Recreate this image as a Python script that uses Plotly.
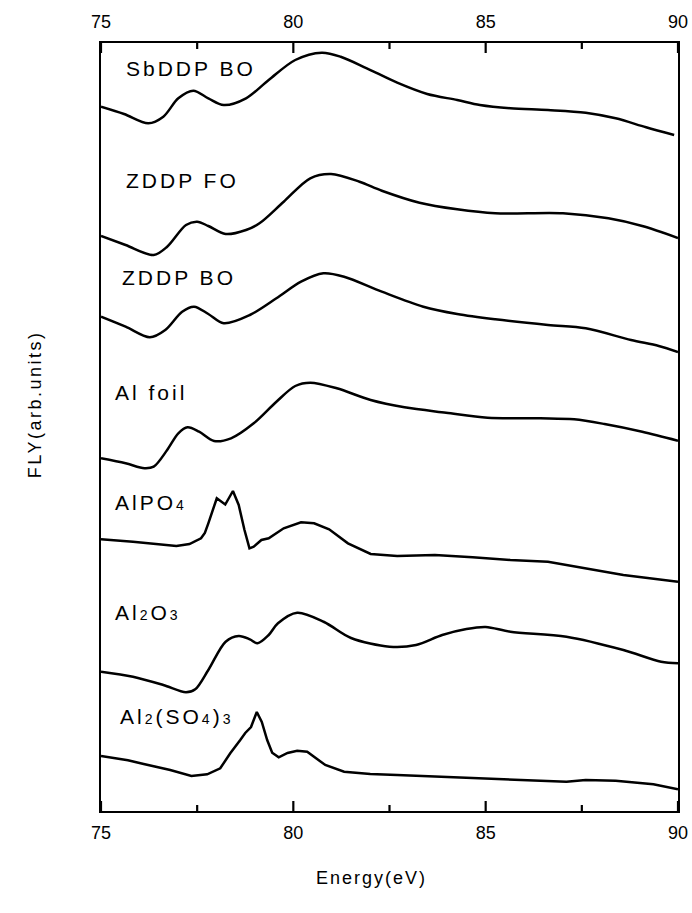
import plotly.graph_objects as go

# Energy (eV) and FLY intensities (arb. units, stacked with offsets)
sbddp_bo_x = [75.0, 75.6, 76.23, 76.62, 77.01, 77.40, 77.79, 78.19, 78.77, 79.36, 80.05, 80.74, 81.23, 81.91,
              82.70, 83.48, 84.26, 84.85, 85.64, 86.62, 87.60, 88.38, 89.17, 89.9]
sbddp_bo_y = [704.3, 697, 687.7, 694.3, 712.7, 720.3, 712.7, 706, 712.7, 731, 751, 758.3, 754.3, 742.7,
              728.3, 717, 711, 706, 702.7, 701, 698.3, 692.7, 683.7, 676]

zddp_fo_x = [75.0, 75.64, 76.37, 76.72, 77.21, 77.5, 77.79, 78.24, 78.77, 79.12, 79.75, 80.44, 80.98, 81.72,
             82.30, 83.28, 84.26, 85.25, 87.01, 88.19, 89.07, 90.0]
zddp_fo_y = [575, 566, 556, 564.3, 586, 589.3, 585, 577, 581, 587.7, 609.3, 632.7, 637, 629.3,
             620.3, 608.3, 601.7, 597.7, 597.7, 592.7, 585, 573]

zddp_bo_x = [75.0, 75.64, 76.27, 76.67, 77.11, 77.42, 77.79, 78.19, 78.87, 79.56, 80.2, 80.78, 81.32, 82.30,
             83.38, 84.26, 85.25, 86.62, 87.6, 88.78, 89.5, 90.0]
zddp_bo_y = [494.3, 484.3, 473.7, 481, 499.3, 504.3, 497, 487.7, 496, 512.7, 529.3, 537.7, 534.3, 519.3,
             504.3, 497, 491.7, 486, 482.7, 471, 465, 459]

al_foil_x = [75.0, 75.64, 76.13, 76.37, 76.72, 77.01, 77.25, 77.55, 77.94, 78.38, 78.97, 79.56, 80.05, 80.44,
             81.13, 82.01, 82.89, 83.97, 85.05, 86.42, 87.30, 88.09, 89.07, 90.0]
al_foil_y = [352.7, 347.7, 342.7, 344.3, 361, 377.7, 383.7, 379.3, 370, 372.7, 387.7, 409.3, 425, 428.3,
             422.7, 411, 403.7, 398.3, 393.3, 392.7, 391.7, 387, 379.3, 370.3]

alpo4_x = [75.0, 75.83, 76.96, 77.30, 77.6, 77.7, 77.79, 77.9, 78.01, 78.23, 78.43, 78.58, 78.73, 78.86, 78.97,
           79.17, 79.36, 79.75, 80.2, 80.54, 80.93, 81.42, 82.01, 82.70, 83.68, 84.66, 85.64, 86.62, 87.6,
           88.58, 90.0]
alpo4_y = [271.7, 269.3, 265, 267, 272.7, 278, 287.7, 301, 312.7, 306.5, 320, 306, 281, 262.7, 264.3,
           271, 272.7, 282.7, 288.7, 287.7, 281.7, 267.7, 257, 255, 256, 253.7, 251, 249.3, 242.7,
           236, 229.3]

al2o3_x = [75.0, 75.83, 76.62, 77.21, 77.45, 77.79, 78.24, 78.58, 78.87, 79.07, 79.36, 79.6, 80.1, 80.8,
           81.5, 82.5, 83.19, 83.87, 84.5, 85.0, 85.64, 87.1, 88.58, 89.56, 90.0]
al2o3_y = [139.3, 134.3, 126, 118.7, 121.7, 141, 169.3, 175, 171.7, 167.7, 176, 187.7, 198.3, 189,
           173, 164.3, 166, 176, 182, 184, 179.3, 174.3, 161, 149.3, 147.7]

al2so43_x = [75.0, 75.7, 76.11, 76.8, 77.35, 77.76, 78.1, 78.36, 78.62, 78.75, 78.9, 79.05, 79.18, 79.32,
             79.45, 79.62, 79.85, 80.1, 80.36, 80.83, 81.32, 82.0, 82.70, 83.7, 84.66, 86.03, 87.1, 87.6,
             88.38, 89.36, 90.0]
al2so43_y = [55, 50.7, 47, 41, 35, 36.7, 42.7, 57.7, 71, 78, 84, 99, 89, 71,
             58.3, 53.7, 58, 60.3, 59.3, 46, 39.3, 37, 36, 34.5, 32.7, 30.3, 29.3, 31,
             30.3, 26.7, 21.7]

series = [
    ("SbDDP BO", sbddp_bo_x, sbddp_bo_y, "spline"),
    ("ZDDP FO", zddp_fo_x, zddp_fo_y, "spline"),
    ("ZDDP BO", zddp_bo_x, zddp_bo_y, "spline"),
    ("Al foil", al_foil_x, al_foil_y, "spline"),
    ("AlPO4", alpo4_x, alpo4_y, "linear"),
    ("Al2O3", al2o3_x, al2o3_y, "spline"),
    ("Al2(SO4)3", al2so43_x, al2so43_y, "linear"),
]

# label text and anchor (energy, intensity) for each curve
SUB = "<span style='font-size:14px'>{}</span>"
label_texts = ["SbDDP BO", "ZDDP FO", "ZDDP BO", "Al foil",
               "AlPO" + SUB.format("4"),
               "Al" + SUB.format("2") + "O" + SUB.format("3"),
               "Al" + SUB.format("2") + "(SO" + SUB.format("4") + ")" + SUB.format("3")]
label_x = [75.6, 75.6, 75.49, 75.31, 75.31, 75.31, 75.44]
label_y = [743, 631, 534, 419, 309, 199, 95]

major_ticks = [75, 80, 85, 90]
minor_ticks = [77.5, 82.5, 87.5]
X_RANGE = [75, 90]
Y_RANGE = [0, 768]

FONT = "Liberation Sans, Arial, sans-serif"

fig = go.Figure()
for name, xs, ys, shape in series:
    line = dict(color="black", width=2.5, shape=shape)
    if shape == "spline":
        line["smoothing"] = 0.9
    fig.add_trace(go.Scatter(x=xs, y=ys, mode="lines", name=name, line=line, showlegend=False))

# invisible trace to activate the top label axis
fig.add_trace(go.Scatter(x=X_RANGE, y=[Y_RANGE[0]] * 2, xaxis="x2", mode="lines",
                         line=dict(width=0), opacity=0, showlegend=False, hoverinfo="skip"))

# inward tick marks on the bottom and top frame (pixel-length shapes anchored at the axis limits)
shapes = []
for vals, ln in [(major_ticks, 10), (minor_ticks, 6)]:
    for v in vals:
        shapes.append(dict(type="line", xref="x", yref="y", x0=v, x1=v, ysizemode="pixel",
                           yanchor=Y_RANGE[0], y0=0, y1=ln, line=dict(color="black", width=2.2),
                           layer="above"))
        shapes.append(dict(type="line", xref="x", yref="y", x0=v, x1=v, ysizemode="pixel",
                           yanchor=Y_RANGE[1], y0=0, y1=-ln, line=dict(color="black", width=2.2),
                           layer="above"))

annotations = []
for t, lx, ly in zip(label_texts, label_x, label_y):
    annotations.append(dict(x=lx, y=ly, xref="x", yref="y", text=f"<span style='letter-spacing:3px'>{t}</span>",
                            showarrow=False, xanchor="left", yanchor="middle",
                            font=dict(family=FONT, size=21, color="black")))
annotations.append(dict(x=0.468, y=-0.087, xref="paper", yref="paper",
                        text="<span style='letter-spacing:2px'>Energy(eV)</span>", showarrow=False,
                        xanchor="center", yanchor="middle", font=dict(family=FONT, size=18, color="black")))
annotations.append(dict(x=-0.114, y=0.53, xref="paper", yref="paper",
                        text="<span style='letter-spacing:2.5px'>FLY(arb.units)</span>", showarrow=False,
                        textangle=-90, xanchor="center", yanchor="middle",
                        font=dict(family=FONT, size=18, color="black")))

major_axis = dict(range=X_RANGE, tickmode="array", tickvals=major_ticks, ticks="",
                  showgrid=False, zeroline=False, automargin=False,
                  tickfont=dict(family=FONT, size=18, color="black"))

fig.update_layout(
    width=692, height=913,
    margin=dict(l=101, r=14, t=43, b=102, autoexpand=False),
    paper_bgcolor="white", plot_bgcolor="white",
    font=dict(family=FONT, size=18, color="black"),
    annotations=annotations,
    shapes=shapes,
    xaxis=dict(**major_axis, side="bottom", showline=True, linecolor="black", linewidth=2, mirror=True,
               ticklabelstandoff=4),
    xaxis2=dict(**major_axis, overlaying="x", side="top", showline=False, ticklabelstandoff=10),
    yaxis=dict(range=Y_RANGE, showticklabels=False, ticks="", showline=True, linecolor="black",
               linewidth=2, mirror=True, showgrid=False, zeroline=False, automargin=False),
)

fig.write_html("out.html")
